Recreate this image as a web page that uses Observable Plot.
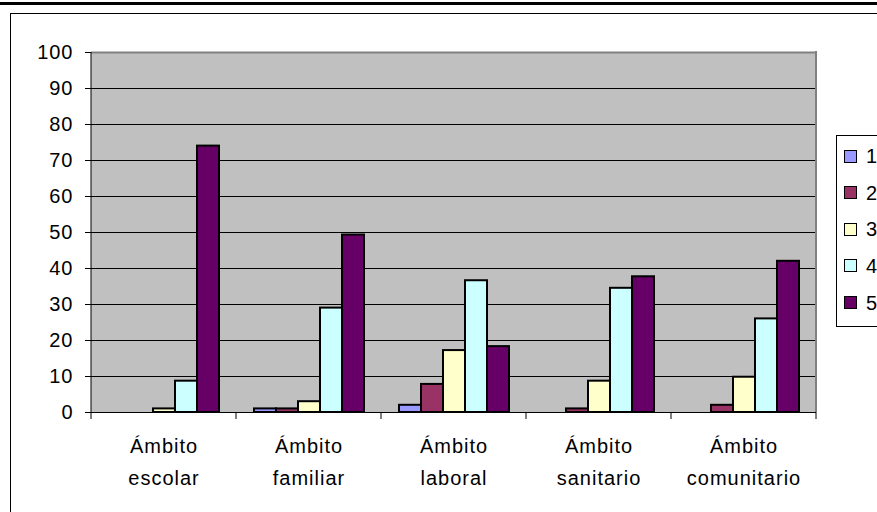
<!DOCTYPE html>
<html>
<head>
<meta charset="utf-8">
<script src="https://cdn.jsdelivr.net/npm/d3@7"></script>
<script src="https://cdn.jsdelivr.net/npm/@observablehq/plot@0.6"></script>
<style>
  html, body { margin: 0; padding: 0; overflow: hidden; background: #fff; width: 877px; height: 512px; }
  body { font-family: "Liberation Sans", Arial, sans-serif; position: relative; }
  #topbar { position: absolute; left: 0; top: 2px; width: 877px; height: 3px; background: #000; }
  #box { position: absolute; left: 10px; top: 13px; width: 900px; height: 600px; border: 1px solid #000; box-sizing: border-box; }
  #chart { position: absolute; left: 0; top: 0; }
  #legend { position: absolute; left: 836px; top: 135px; width: 80px; height: 192px; border: 1px solid #000; box-sizing: border-box; background: #fff; }
  .item { position: absolute; left: 0; height: 20px; display: flex; align-items: center; }
  .sw { width: 11px; height: 11px; border: 1px solid #000; margin-left: 7px; }
  .lab { margin-left: 9px; font-size: 20px; letter-spacing: 1px; line-height: 20px; }
</style>
</head>
<body>
<div id="topbar"></div>
<div id="box"></div>
<div id="chart"></div>
<div id="legend"></div>
<script>
const categories = ["Ámbito escolar", "Ámbito familiar", "Ámbito laboral", "Ámbito sanitario", "Ámbito comunitario"];
const seriesNames = ["1", "2", "3", "4", "5"];
const seriesColors = ["#9999FF", "#993366", "#FFFFCC", "#CCFFFF", "#660066"];
const s1 = [0, 1, 2, 0, 0];
const s2 = [0, 1, 7.8, 1, 2];
const s3 = [1, 3, 17.2, 8.7, 9.8];
const s4 = [8.7, 29, 36.6, 34.5, 26];
const s5 = [74, 49.3, 18.3, 37.7, 42];
const yTicks = [0, 10, 20, 30, 40, 50, 60, 70, 80, 90, 100];

const seriesValues = [s1, s2, s3, s4, s5];
const data = [];
categories.forEach((c, i) => {
  seriesNames.forEach((s, j) => {
    data.push({category: c, series: s, value: seriesValues[j][i]});
  });
});

const chart = Plot.plot({
  width: 836,
  height: 512,
  marginLeft: 90,
  marginRight: 20,
  marginTop: 52,
  marginBottom: 100,
  style: {fontFamily: "'Liberation Sans', Arial, sans-serif", fontSize: "20px", letterSpacing: "1px", color: "#000", background: "transparent", overflow: "visible"},
  fx: {domain: categories, padding: 0, axis: null, label: null},
  x: {domain: seriesNames, paddingInner: 0, paddingOuter: 0.705, axis: null, label: null},
  y: {domain: [0, 100], axis: null, label: null},
  color: {domain: seriesNames, range: seriesColors},
  marks: [
    Plot.gridY(yTicks.filter(t => t > 0 && t < 100), {stroke: "#000", strokeOpacity: 1, strokeWidth: 1}),
    Plot.ruleY([100], {stroke: "#808080", strokeWidth: 2}),
    Plot.barY(data.filter(d => d.value > 0), {fx: "category", x: "series", y: "value", fill: "series", stroke: "#000", strokeWidth: 2}),
    Plot.ruleY([0], {stroke: "#000", strokeWidth: 1}),
    Plot.axisY(yTicks, {tickSize: 6, tickPadding: 12, stroke: "#000", fill: "#000", label: null}),
    Plot.axisFx({anchor: "bottom", tickSize: 0, tickPadding: 18, lineHeight: 1.58, tickFormat: d => d.replace(" ", "\n"), fill: "#000", label: null})
  ]
});
document.getElementById("chart").appendChild(chart);

// plot-area background, axis line, category boundary ticks and right border via the plot's own scales
const fx = chart.scale("fx");
const y = chart.scale("y");
const y0 = y.apply(0), y100 = y.apply(100);
const bounds = categories.map(c => fx.apply(c));
bounds.push(fx.apply(categories[categories.length - 1]) + fx.bandwidth);
const svg = d3.select(chart);
svg.insert("rect", ":first-child")
  .attr("x", bounds[0]).attr("y", y100)
  .attr("width", bounds[bounds.length - 1] - bounds[0]).attr("height", y0 - y100)
  .attr("fill", "#C0C0C0");
const g = svg.append("g");
g.append("line").attr("x1", bounds[bounds.length - 1]).attr("x2", bounds[bounds.length - 1])
  .attr("y1", y100 - 1).attr("y2", y0).attr("stroke", "#808080").attr("stroke-width", 2);
g.append("line").attr("x1", bounds[0]).attr("x2", bounds[0])
  .attr("y1", y100).attr("y2", y0).attr("stroke", "#000").attr("stroke-width", 1);
g.selectAll("line.tk").data(bounds).join("line").attr("class", "tk")
  .attr("x1", d => d).attr("x2", d => d).attr("y1", y0).attr("y2", y0 + 7)
  .attr("stroke", "#000").attr("stroke-width", 1);

// legend
const legend = d3.select("#legend");
const itemTops = [146, 182.5, 219, 255.5, 292.5];
seriesNames.forEach((s, i) => {
  const it = legend.append("div").attr("class", "item").style("top", (itemTops[i] - 135 - 1) + "px");
  it.append("div").attr("class", "sw").style("background", seriesColors[i]);
  it.append("div").attr("class", "lab").text(s);
});
</script>
</body>
</html>
